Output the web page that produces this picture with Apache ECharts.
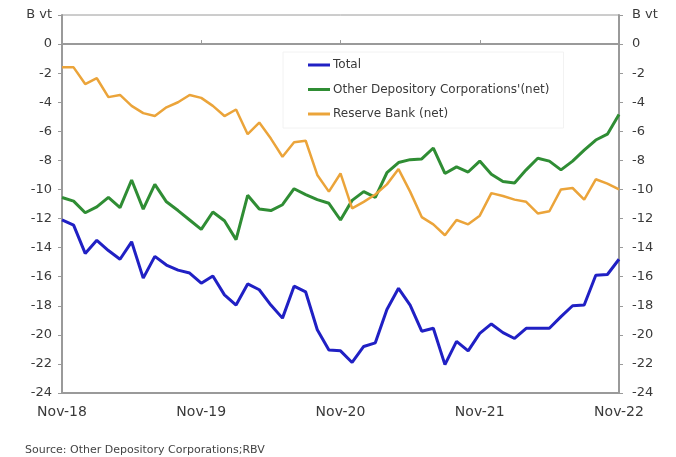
<!DOCTYPE html>
<html>
<head>
<meta charset="utf-8">
<script src="https://cdn.jsdelivr.net/npm/echarts@6/dist/echarts.min.js"></script>
<style>
  html, body { margin: 0; padding: 0; background: #ffffff; }
  #chart { width: 676px; height: 457px; }
</style>
</head>
<body>
<div id="chart"></div>
<script>
// Monthly observations, Nov-18 to Nov-22 (B vt)
const months = [];
const monthNames = ['Jan','Feb','Mar','Apr','May','Jun','Jul','Aug','Sep','Oct','Nov','Dec'];
for (let y = 18, m = 10; y < 22 || (y === 22 && m <= 10); ) {
  months.push(monthNames[m] + '-' + y);
  m++;
  if (m === 12) { m = 0; y++; }
}

const total = [-12.1, -12.45, -14.4, -13.5, -14.2, -14.8, -13.6, -16.1, -14.6, -15.2,
  -15.55, -15.75, -16.45, -15.95, -17.25, -17.95, -16.5, -16.9, -17.95, -18.85,
  -16.65, -17.05, -19.65, -21.05, -21.1, -21.9, -20.8, -20.55, -18.25, -16.8,
  -17.95, -19.75, -19.55, -22.05, -20.45, -21.1, -19.9, -19.25, -19.85, -20.25,
  -19.55, -19.55, -19.55, -18.75, -18.0, -17.95, -15.9, -15.85, -14.8];

const otherDepository = [-10.55, -10.8, -11.6, -11.2, -10.55, -11.25, -9.35, -11.35, -9.65, -10.85,
  -11.45, -12.1, -12.75, -11.55, -12.15, -13.45, -10.4, -11.35, -11.45, -11.05,
  -9.95, -10.35, -10.7, -10.95, -12.1, -10.75, -10.15, -10.55, -8.85, -8.15,
  -7.95, -7.9, -7.15, -8.9, -8.45, -8.8, -8.05, -8.95, -9.45, -9.55,
  -8.65, -7.85, -8.05, -8.65, -8.05, -7.3, -6.6, -6.2, -4.85];

const reserveBank = [-1.6, -1.6, -2.75, -2.35, -3.65, -3.5, -4.25, -4.75, -4.95, -4.35,
  -4.0, -3.5, -3.7, -4.25, -4.95, -4.5, -6.2, -5.4, -6.5, -7.75,
  -6.75, -6.65, -9.0, -10.15, -8.9, -11.3, -10.85, -10.35, -9.65, -8.6,
  -10.15, -11.9, -12.4, -13.15, -12.1, -12.4, -11.8, -10.25, -10.45, -10.7,
  -10.85, -11.65, -11.5, -10.0, -9.9, -10.7, -9.3, -9.6, -10.0];

const seriesNames = ['Total', "Other Depository Corporations'(net)", 'Reserve Bank (net)'];
const unitLabel = 'B vt';
const sourceNote = 'Source: Other Depository Corporations;RBV';

const FONT = 'DejaVu Sans';
const AXIS_GREY = '#9a9a9a';
const TEXT = '#3a3a3a';

const yAxisBase = {
  type: 'value',
  min: -24,
  max: 2,
  interval: 2,
  splitLine: { show: false },
  axisLine: { show: true, lineStyle: { color: AXIS_GREY, width: 2 } },
  axisTick: { show: true, length: 4, lineStyle: { color: AXIS_GREY, width: 1 } },
  axisLabel: {
    fontFamily: FONT, fontSize: 13, color: TEXT,
    formatter: v => (v === 2 ? unitLabel : String(v))
  }
};

const chart = echarts.init(document.getElementById('chart'), null, { renderer: 'canvas' });
chart.setOption({
  animation: false,
  backgroundColor: '#ffffff',
  grid: {
    left: 62, right: 57, top: 15, bottom: 64,
    show: true, borderColor: AXIS_GREY, borderWidth: 1, backgroundColor: 'transparent'
  },
  legend: {
    data: seriesNames,
    orient: 'vertical',
    left: 283,
    top: 52,
    padding: [7, 14, 8, 25],
    itemGap: 12.5,
    icon: 'rect',
    itemWidth: 22,
    itemHeight: 3,
    backgroundColor: '#ffffff',
    borderColor: '#f2f2f2',
    borderWidth: 1,
    textStyle: { fontFamily: FONT, fontSize: 12, color: TEXT, padding: [0, 0, 0, -2] }
  },
  xAxis: [
    {
      type: 'category',
      data: months,
      boundaryGap: false,
      position: 'bottom',
      axisLine: { onZero: false, lineStyle: { color: AXIS_GREY, width: 2 } },
      axisTick: { show: false },
      axisLabel: {
        interval: 11,
        margin: 12,
        fontFamily: FONT, fontSize: 14, color: TEXT
      },
      splitLine: { show: false }
    },
    {
      type: 'category',
      data: months,
      boundaryGap: false,
      position: 'bottom',
      axisLine: { onZero: true, lineStyle: { color: AXIS_GREY, width: 2 } },
      axisTick: { show: true, inside: true, length: 4, interval: 11, lineStyle: { color: AXIS_GREY } },
      axisLabel: { show: false },
      splitLine: { show: false }
    }
  ],
  yAxis: [
    Object.assign({}, yAxisBase, { position: 'left', axisLabel: Object.assign({}, yAxisBase.axisLabel, { margin: 10 }) }),
    Object.assign({}, yAxisBase, { position: 'right', axisLabel: Object.assign({}, yAxisBase.axisLabel, { margin: 13 }) })
  ],
  series: [
    {
      name: seriesNames[0], type: 'line', data: total,
      xAxisIndex: 0, yAxisIndex: 0,
      symbol: 'none', smooth: false,
      lineStyle: { color: '#2020c4', width: 3 },
      itemStyle: { color: '#2020c4' }
    },
    {
      name: seriesNames[1], type: 'line', data: otherDepository,
      xAxisIndex: 0, yAxisIndex: 0,
      symbol: 'none', smooth: false,
      lineStyle: { color: '#2f8d34', width: 3 },
      itemStyle: { color: '#2f8d34' }
    },
    {
      name: seriesNames[2], type: 'line', data: reserveBank,
      xAxisIndex: 0, yAxisIndex: 0,
      symbol: 'none', smooth: false,
      lineStyle: { color: '#eba43a', width: 2.5 },
      itemStyle: { color: '#eba43a' }
    }
  ],
  graphic: [
    {
      type: 'text',
      left: 25,
      top: 445,
      style: { text: sourceNote, font: '11px "' + FONT + '"', fill: '#444444' }
    }
  ]
});
</script>
</body>
</html>
